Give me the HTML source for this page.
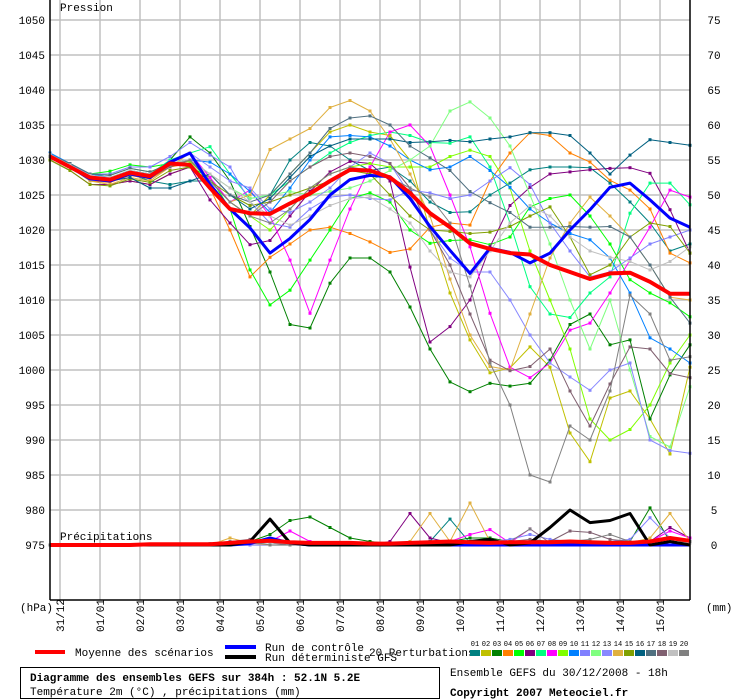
<!DOCTYPE html>
<html><head><meta charset="utf-8">
<style>
html,body{margin:0;padding:0;background:#fff;}
svg{display:block;font-family:"Liberation Mono","DejaVu Sans Mono",monospace;}
</style></head>
<body>
<svg id="chart" width="740" height="700" viewBox="0 0 740 700" xmlns="http://www.w3.org/2000/svg">
  <g id="grid"></g>
  <g id="yl"></g>
  <g id="yr"></g>
  <g id="xl"></g>
  <g id="series"></g>
  <line x1="50" y1="0" x2="50" y2="600" stroke="#000" stroke-width="1.5"/>
  <line x1="50" y1="600" x2="690" y2="600" stroke="#000" stroke-width="1.5"/>
  <line x1="690" y1="0" x2="690" y2="600" stroke="#000" stroke-width="1.5"/>
  <text x="60" y="11" font-size="11">Pression</text>
  <text x="60" y="540" font-size="11">Précipitations</text>
  <text x="20" y="611" font-size="11">(hPa)</text>
  <text x="706" y="611" font-size="11">(mm)</text>
  <g>
    <line x1="35" y1="652" x2="65" y2="652" stroke="#f00" stroke-width="4"/>
    <text x="75" y="656" font-size="11">Moyenne des scénarios</text>
    <line x1="225" y1="647" x2="256" y2="647" stroke="#00f" stroke-width="4"/>
    <line x1="225" y1="657" x2="256" y2="657" stroke="#000" stroke-width="4"/>
    <text x="265" y="651" font-size="11">Run de contrôle</text>
    <text x="265" y="661" font-size="11">Run déterministe GFS</text>
    <text x="369" y="656" font-size="11">20 Perturbations</text>
    <g id="swatches"></g>
  </g>
  <rect x="20.5" y="667.5" width="419" height="31" fill="none" stroke="#000"/>
  <text x="30" y="681" font-size="11" font-weight="bold">Diagramme des ensembles GEFS sur 384h : 52.1N 5.2E</text>
  <text x="30" y="695" font-size="11">Température 2m (°C) , précipitations (mm)</text>
  <text x="450" y="676" font-size="11">Ensemble GEFS du 30/12/2008 - 18h</text>
  <text x="450" y="696" font-size="11" font-weight="bold">Copyright 2007 Meteociel.fr</text>
</svg>
<script>
const dates = ["31/12","01/01","02/01","03/01","04/01","05/01","06/01","07/01","08/01","09/01","10/01","11/01","12/01","13/01","14/01","15/01"];
const pTicks = [1050,1045,1040,1035,1030,1025,1020,1015,1010,1005,1000,995,990,985,980,975];
const mmTicks = [75,70,65,60,55,50,45,40,35,30,25,20,15,10,5,0];
const memberIds = ["01","02","03","04","05","06","07","08","09","10","11","12","13","14","15","16","17","18","19","20"];
const memberColors = ["#008080","#c0c000","#008000","#ff8000","#00ff00","#800080","#00ff80","#ff00ff","#80ff00","#0080ff","#8080ff","#80ff80","#8888ff","#e0b040","#80a000","#006080","#507080","#806070","#c0c0c0","#808080"];
// pressure, one value per 12 h from 30/12 18h
const meanP = [1030.5,1029,1027.5,1027.2,1028.2,1027.7,1029.5,1029.3,1026,1023,1022.4,1022.3,1023.8,1025.2,1027,1028.6,1028.5,1027.5,1025.3,1022.4,1020.4,1018.1,1017.3,1016.7,1016.5,1015,1014,1013,1013.8,1013.9,1012.6,1010.9,1010.9];
const controlP = [1030.5,1029,1027.3,1027,1028,1027.5,1029.7,1031,1026.5,1023,1020.3,1016.7,1018.8,1021.5,1025,1027.2,1027.8,1027.6,1024.5,1020.5,1017.1,1013.8,1017.4,1016.8,1015.3,1016.7,1020,1022.9,1026.1,1026.7,1024.3,1021.7,1020.4];
const m01 = [1030.5,1029,1027.5,1027,1028,1027,1026.5,1027,1027,1024,1022,1025,1030,1032.5,1032,1030,1028.5,1029,1027,1024,1022.5,1022.6,1025,1026.7,1028.6,1029,1029,1028.9,1026.7,1024,1021,1017,1018];
const m02 = [1030,1028.5,1026.5,1026.5,1027,1026.5,1028,1029,1027,1024,1022,1025,1028,1031,1034,1035,1034,1033.5,1030,1020,1011,1004.3,999.6,1000.3,1003.3,1000.4,991,986.9,996,997,993,988,1000.4];
const m03 = [1030.5,1029,1027.2,1027,1028,1027.5,1030,1033.3,1031,1027,1020.5,1014,1006.5,1006,1012.4,1016,1016,1014,1009,1003,998.3,996.9,998.1,997.7,998.1,1001.4,1006.5,1008,1003.6,1004.3,993,999.3,1003.6];
const m04 = [1030.5,1029,1027,1026.8,1027.8,1027.3,1029,1029.5,1026,1020,1013.3,1016.1,1018,1020,1020.4,1019.5,1018.3,1016.8,1017.3,1020.4,1021,1020.7,1027,1031,1033.9,1033.5,1031,1029.7,1027.1,1025.7,1023,1016.7,1015.3];
const m05 = [1030.5,1029.3,1028,1028.4,1029.3,1029,1029.5,1029,1027.5,1023,1014.3,1009.3,1011.4,1015.7,1020,1024.5,1025.3,1024,1020,1018.1,1018.5,1018.6,1017.9,1019,1023.3,1024.5,1025,1022,1018,1012.9,1011,1009.6,1007.6];
const m06 = [1030,1028.5,1026.5,1026.5,1027,1026.5,1028,1029,1024.3,1021,1017.9,1018.5,1022,1025.5,1028.3,1029.8,1029.5,1027,1014.7,1004,1006.2,1010,1017.6,1023.5,1026.1,1028,1028.3,1028.6,1028.8,1028.9,1028.1,1022.9,1016.7];
const m07 = [1030.5,1029,1027.5,1027.5,1028.5,1028,1030,1031,1031.9,1028,1024.5,1025,1027,1029,1031,1032.5,1033.5,1034,1033.5,1032.5,1032.4,1033.3,1029,1021,1011.9,1008,1007.5,1011,1013.3,1022.4,1026.7,1026.7,1023.6];
const m08 = [1030.5,1029,1027.3,1027,1028,1027.5,1029.5,1031,1027.5,1024,1025.7,1022,1015.7,1008.1,1015.7,1023,1029,1034,1035,1032,1025,1017.6,1008.1,1000.4,998.9,1001,1005.7,1006.7,1011,1015.7,1020.4,1025.7,1024.7];
const m09 = [1030.5,1029.5,1028,1027.8,1028.8,1028.3,1029.5,1029.8,1027,1024,1022,1020,1023,1026,1028,1029,1029.5,1029,1029,1029,1030.5,1031.4,1030.5,1026,1017,1010,1003,993,990,991.5,995,1001,1005];
const m10 = [1031,1029.5,1028,1027.5,1028.5,1028,1029.5,1030,1029.7,1028,1025.5,1022.5,1026,1030,1033.3,1033.5,1033.3,1032,1030,1028.6,1029,1030.5,1028.5,1026.1,1023,1021,1019.5,1018.6,1016,1011,1004.6,1003,1001];
const m11 = [1030.5,1029.3,1028,1028,1029,1029,1030.5,1032.5,1030.7,1029,1024,1021,1020.4,1023,1024.7,1025,1024.5,1024.3,1025.7,1025.3,1024.5,1025,1027,1028.9,1026.5,1021,1017,1013.3,1014,1016,1018,1019,1020];
const m12 = [1030.5,1029,1027.5,1027.3,1028.3,1027.8,1029.5,1030,1028,1026,1024.5,1025,1025.5,1025,1025.5,1026,1027,1028.5,1030,1032,1037,1038.3,1036,1032,1025,1018,1010,1003,1010,1000,990.5,989,997.6];
const m13 = [1030.5,1029,1027.5,1027.3,1028.3,1027.8,1029.8,1031,1029,1027,1026,1023,1022.5,1024,1026,1029,1031,1029.5,1025,1020,1016,1014,1014,1010,1005,1001,999,997.1,1000,1001,990,988.5,988.1];
const m14 = [1030.5,1029,1027,1026.5,1027.5,1027,1029,1031,1027,1024,1025,1031.5,1033,1034.5,1037.5,1038.5,1037,1033,1028,1022,1013,1005,1000.5,1000,1008,1016,1021,1024.7,1022,1019,1015,1010.4,1010];
const m15 = [1030,1028.5,1026.5,1026.3,1027.3,1026.8,1028.5,1029,1027,1025,1023.5,1024,1025,1026,1027,1028.5,1028,1025,1022,1020,1019.8,1019.5,1019.7,1020.5,1022,1023.3,1019,1013.6,1015,1019,1021,1020.5,1016.7];
const m16 = [1030.5,1029,1027.3,1027,1027.5,1026,1026,1027,1028,1025,1023,1024.5,1027.5,1030.5,1032,1033,1033,1033,1032.5,1032.6,1032.8,1032.6,1033,1033.3,1033.9,1033.9,1033.5,1031,1028,1030.7,1032.9,1032.5,1032.1];
const m17 = [1030.8,1029.5,1028,1027.8,1028.8,1028.3,1029.5,1030,1028,1025,1024,1025,1028,1031,1034.5,1036,1036.3,1035,1032,1030.3,1028.5,1025.5,1023.9,1022.5,1020.4,1020.4,1020.5,1020.4,1020.5,1019,1015,1010.4,1006.7];
const m18 = [1030.5,1029,1027.3,1027,1028,1027.5,1029,1030,1027,1024,1022,1024,1027,1029,1030.5,1031,1030.5,1029.5,1026,1020,1015,1008,1001.4,999.9,1000.5,1003,997,992,998,1003.3,1003,999.5,998.9];
const m19 = [1030.8,1029.3,1027.8,1027.5,1028.5,1028,1029.5,1030,1028,1026,1024,1022,1020.7,1022,1023.5,1024.5,1024.7,1023,1021,1017,1014,1013.3,1017,1021,1023.5,1022,1019,1017,1016.1,1015.5,1014.3,1015.5,1017.6];
const m20 = [1030.5,1029,1027.5,1027.2,1028.2,1027.7,1029.2,1030,1027,1024,1022,1021,1023,1026,1028,1029,1028.5,1027.5,1026,1024.7,1021,1012,1001,995,985,984,992,990,997,1010.7,1008,1001.4,1001.9];
// precipitation (mm), one value per 12 h
const meanR = [0,0,0,0,0,0.1,0.1,0.1,0.1,0.3,0.5,0.6,0.4,0.3,0.3,0.3,0.2,0.2,0.3,0.4,0.5,0.4,0.3,0.4,0.4,0.4,0.5,0.4,0.3,0.3,0.5,1.0,0.6];
const controlR = [0,0,0,0,0,0,0,0,0,0,0.2,1,0.3,0,0,0,0,0,0,0,0,0,0,0,0,0,0,0,0,0,0,0,0];
const detR = [0,0,0,0,0,0,0,0,0,0,0.5,3.7,0.3,0,0,0,0,0,0,0,0,0.5,0.8,0,0.3,2.5,5,3.2,3.5,4.5,0,0.5,0];
const r03 = [0,0,0,0,0,0,0,0,0,0.2,0.5,1.5,3.5,4,2.5,1,0.5,0.2,0,0.2,0.5,1,1,0.5,0.3,0.5,0.3,0.2,0.3,0.5,5.3,0.5,0.3];
const r06 = [0,0,0,0,0,0,0,0,0,0,0,0,0,0,0,0,0,0.5,4.5,1,0.3,0.3,0.2,0,0,0,0,0,0,0,0.5,2.5,1];
const r14 = [0,0,0,0,0,0,0,0,0,1,0.3,0,0,0,0,0,0,0,0.5,4.5,0.5,6,0.5,0,0,0,0.5,0.3,0.5,0.3,1,4.5,0.5];
const r01 = [0,0,0,0,0,0,0,0,0,0,0,0,0,0,0,0,0,0,0,0.5,3.7,0.3,0,0,0,0,0,0,0,0,0.5,1,0.5];
const r08 = [0,0,0,0,0,0,0,0,0,0.5,0.3,0.5,2,0.5,0,0,0,0,0,0,0.5,1.5,2.2,0.3,2.3,0.3,0.2,0,0,0,0.5,2,1];
const r20 = [0,0,0,0,0,0,0,0,0.2,0.5,0.5,0,0,0,0,0,0,0,0,0,0,0.5,0.8,0.5,2.3,0.3,0.5,0.8,1.5,0.5,0.5,1,0.5];
const r11 = [0,0,0,0,0,0,0,0,0,0,0,0,0,0,0,0,0,0,0,0,0,0.3,0.5,0.8,1.5,0.8,0.5,0.3,0.5,0.8,3.9,1,0.5];
const r18 = [0,0,0,0,0,0,0,0,0,0.5,0.8,0.3,0,0,0,0,0,0,0,0,0,0,0,0.5,0.8,0.5,2,1.8,0.8,0.5,0.3,0.5,0.3];

const NS="http://www.w3.org/2000/svg";
const X0=50, DX=20;
function xAt(i){return X0+DX*i;}
function yP(p){return 20+(1050-p)*7;}
function yR(mm){return 545-mm*7;}
function mk(tag,attrs,parent){const e=document.createElementNS(NS,tag);for(const k in attrs)e.setAttribute(k,attrs[k]);parent.appendChild(e);return e;}

const grid=document.getElementById('grid');
dates.forEach((d,k)=>{
  const x=60+40*k;
  const l=mk('line',{x1:x,y1:0,x2:x,y2:600,stroke:'#c0c0c0','stroke-width':1.5},grid);
  
  
  const t=mk('text',{x:0,y:0,'font-size':11,transform:`translate(${x+4},632) rotate(-90)`},document.getElementById('xl'));
  t.textContent=d;
  
  
});
pTicks.forEach((p,k)=>{
  const y=yP(p);
  const l=mk('line',{x1:50,y1:y,x2:690,y2:y,stroke:'#c0c0c0','stroke-width':1.5},grid);
  
  
  const t=mk('text',{x:45,y:y+4,'font-size':11,'text-anchor':'end'},document.getElementById('yl'));
  t.textContent=p;
  
  
  const r=mk('text',{x:714,y:y+4,'font-size':11,'text-anchor':'middle'},document.getElementById('yr'));
  r.textContent=mmTicks[k];
  
  
});

const sg=document.getElementById('series');
function line(vals,fy,color,w,name,markers){
  const pts=vals.map((v,i)=>xAt(i)+','+fy(v).toFixed(1)).join(' ');
  const pl=mk('polyline',{points:pts,fill:'none',stroke:color,'stroke-width':w,'stroke-linejoin':'round'},sg);
  
  
  if(markers){vals.forEach((v,i)=>{const c=mk('rect',{x:xAt(i)-1.5,y:fy(v)-1.5,width:3,height:3,fill:color},sg);
    
    });}
}
const members=[m01,m02,m03,m04,m05,m06,m07,m08,m09,m10,m11,m12,m13,m14,m15,m16,m17,m18,m19,m20];
const precMembers={"01":r01,"03":r03,"06":r06,"08":r08,"11":r11,"14":r14,"18":r18,"20":r20};
members.forEach((m,k)=>{
  const id=memberIds[k];
  const pr=precMembers[id]||meanR.map(v=>v*0.5);
  line(pr,yR,memberColors[k],1,'precip-member-'+id,true);
});
members.forEach((m,k)=>line(m,yP,memberColors[k],1,'pressure-member-'+memberIds[k],true));
line(controlR,yR,'#0000ff',3,'precip-control',false);
line(detR,yR,'#000000',3,'precip-deterministic',false);
line(meanR,yR,'#ff0000',4,'precip-mean',false);
line(controlP,yP,'#0000ff',3,'pressure-control',false);
line(meanP,yP,'#ff0000',4,'pressure-mean',false);

const sw=document.getElementById('swatches');
memberIds.forEach((id,k)=>{
  const x=470+11*k;
  const r=mk('rect',{x:x,y:650,width:10,height:6,fill:memberColors[k]},sw);
  
  
  const t=mk('text',{x:x+5,y:646,'font-size':7,'text-anchor':'middle'},sw);
  t.textContent=id;
  
  
});
</script>
</body></html>
